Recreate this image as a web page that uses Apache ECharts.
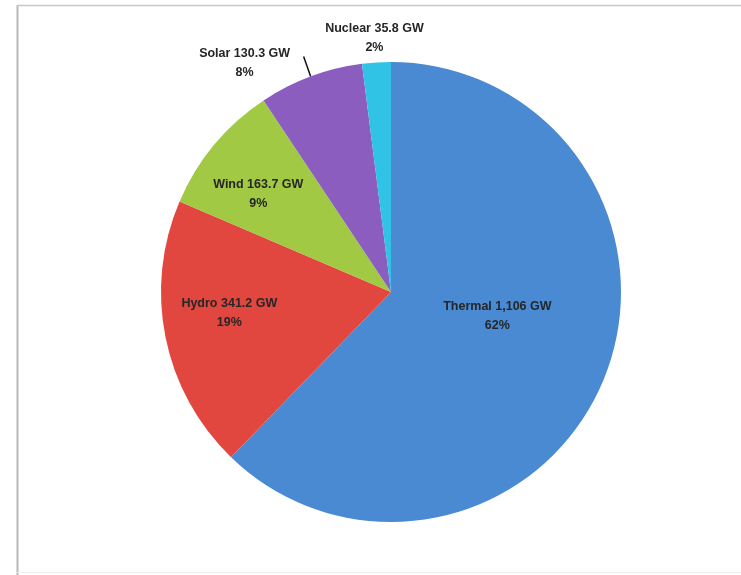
<!DOCTYPE html>
<html>
<head>
<meta charset="utf-8">
<script src="https://cdn.jsdelivr.net/npm/echarts@6/dist/echarts.min.js"></script>
<style>html,body{margin:0;padding:0;background:#fff;}#c{width:741px;height:575px;}</style>
</head>
<body>
<div id="c"></div>
<script>
var categories = ['Thermal', 'Hydro', 'Wind', 'Solar', 'Nuclear'];
var valueLabels = ['1,106', '341.2', '163.7', '130.3', '35.8'];
var values = [1106, 341.2, 163.7, 130.3, 35.8];
var percentLabels = ['62%', '19%', '9%', '8%', '2%'];
var colors = ['#4a8ad2', '#e1473e', '#a2c943', '#8a5dbf', '#31c3e6'];

var chart = echarts.init(document.getElementById('c'));
var data = categories.map(function (c, i) {
  var inside = i < 3;
  var offsets = [[-3, -20], [-46, -2], [-42, -22], [0, 0], [0, 0]];
  return {
    name: c,
    value: values[i],
    itemStyle: { color: colors[i] },
    label: {
      position: inside ? 'inside' : 'outside',
      offset: offsets[i],
      formatter: c + ' ' + valueLabels[i] + ' GW\n' + percentLabels[i]
    },
    labelLine: { show: i === 3 }
  };
});

chart.setOption({
  animation: false,
  graphic: [
    { type: 'line', shape: { x1: 17.5, y1: 5, x2: 17.5, y2: 575 }, style: { stroke: '#b8b8b8', lineWidth: 2 } },
    { type: 'line', shape: { x1: 17, y1: 5.5, x2: 741, y2: 5.5 }, style: { stroke: '#c8c8c8', lineWidth: 1.5 } },
    { type: 'line', shape: { x1: 17, y1: 572.5, x2: 741, y2: 572.5 }, style: { stroke: '#ececec', lineWidth: 1 } }
  ],
  series: [{
    type: 'pie',
    center: [391, 292],
    radius: [0, 230],
    startAngle: 90,
    clockwise: true,
    avoidLabelOverlap: false,
    data: data,
    itemStyle: { borderWidth: 0 },
    emphasis: { disabled: true },
    label: {
      show: true,
      color: '#262626',
      fontFamily: 'Liberation Sans',
      fontWeight: 'bold',
      fontSize: 12.5,
      lineHeight: 19,
      align: 'center'
    },
    labelLine: { show: true, length: 12, length2: 0, lineStyle: { color: '#111', width: 1.5 } },
    labelLayout: function (p) {
      if (p.dataIndex === 3 && p.labelLinePoints) {
        var e = p.labelLinePoints[0];
        return {
          x: e[0] - 66, y: e[1] - 13, align: 'center', verticalAlign: 'middle',
          labelLinePoints: [[e[0], e[1]], [e[0] - 7, e[1] - 20], [e[0] - 7, e[1] - 20]]
        };
      }
      if (p.dataIndex === 4 && p.labelLinePoints) {
        var n = p.labelLinePoints[0];
        return { x: n[0] - 2, y: n[1] - 24, align: 'center', verticalAlign: 'middle' };
      }
      return {};
    }
  }]
});
</script>
</body>
</html>
